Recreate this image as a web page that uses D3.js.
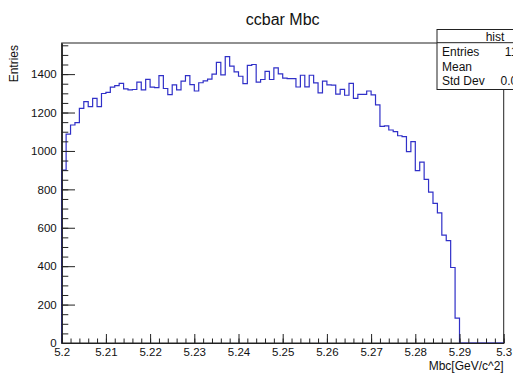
<!DOCTYPE html>
<html>
<head>
<meta charset="utf-8">
<script src="https://cdn.jsdelivr.net/npm/d3@7"></script>
<style>
  html, body { margin: 0; padding: 0; background: #fff; }
  svg { display: block; font-family: "Liberation Sans", Arial, Helvetica, sans-serif; }
</style>
</head>
<body>
<svg id="chart" width="513" height="373"></svg>
<script>
// Histogram "hist": Mbc of ccbar events, 100 bins from 5.2 to 5.3 GeV/c^2
const binLow = 5.2;
const binHigh = 5.3;
const counts = [
  900, 1088, 1135, 1147, 1222, 1257, 1231, 1274, 1231, 1299,
  1305, 1332, 1340, 1352, 1323, 1318, 1320, 1358, 1318, 1373,
  1332, 1330, 1392, 1325, 1293, 1344, 1318, 1363, 1392, 1345,
  1312, 1355, 1365, 1374, 1400, 1461, 1396, 1491, 1442, 1412,
  1389, 1350, 1445, 1450, 1358, 1372, 1414, 1372, 1432, 1401,
  1379, 1377, 1377, 1333, 1394, 1334, 1394, 1354, 1302, 1364,
  1344, 1343, 1296, 1321, 1290, 1352, 1274, 1294, 1295, 1312,
  1292, 1240, 1128, 1130, 1109, 1101, 1079, 1075, 996, 1049,
  897, 942, 852, 786, 727, 677, 562, 533, 393, 130,
  0, 0, 0, 0, 0, 0, 0, 0, 0, 0
];
const xTicks = [5.2, 5.21, 5.22, 5.23, 5.24, 5.25, 5.26, 5.27, 5.28, 5.29, 5.3];
const xTickLabels = ["5.2", "5.21", "5.22", "5.23", "5.24", "5.25", "5.26", "5.27", "5.28", "5.29", "5.3"];
const yTicks = [0, 200, 400, 600, 800, 1000, 1200, 1400];
const yMax = 1562;

const title = "ccbar Mbc";
const xTitle = "Mbc[GeV/c^2]";
const yTitle = "Entries";
const statsName = "hist";

const frame = { left: 61.7, right: 503.7, top: 43, bottom: 343 };
const font = "\"Liberation Sans\", Arial, Helvetica, sans-serif";

const svg = d3.select("#chart");

const x = d3.scaleLinear().domain([binLow, binHigh]).range([frame.left, frame.right]);
const y = d3.scaleLinear().domain([0, yMax]).range([frame.bottom, frame.top]);

const nBins = counts.length;
const binW = (binHigh - binLow) / nBins;

// frame
svg.append("rect")
  .attr("x", frame.left).attr("y", frame.top)
  .attr("width", frame.right - frame.left).attr("height", frame.bottom - frame.top)
  .attr("fill", "none").attr("stroke", "#222").attr("stroke-width", 1);

// step outline of the histogram
const pts = [[binLow, 0]];
counts.forEach((c, i) => {
  pts.push([binLow + i * binW, c]);
  pts.push([binLow + (i + 1) * binW, c]);
});
pts.push([binHigh, 0]);

svg.append("path")
  .datum(pts)
  .attr("fill", "none")
  .attr("stroke", "#3030c8")
  .attr("stroke-width", 1.2)
  .attr("d", d3.line().x(d => x(d[0])).y(d => y(d[1])));

// x axis: major ticks every 0.01, minor every 0.002 (ticks point into the frame)
const xMinor = d3.range(0, 51).map(k => binLow + k * 0.002);
svg.append("g")
  .attr("transform", `translate(0,${frame.bottom})`)
  .call(d3.axisBottom(x).tickValues(xMinor).tickSizeInner(-4.5).tickSizeOuter(0).tickFormat(""))
  .call(g => g.selectAll("text").remove());
svg.append("g")
  .attr("transform", `translate(0,${frame.bottom})`)
  .call(d3.axisBottom(x).tickValues(xTicks).tickSizeInner(-9).tickSizeOuter(0).tickPadding(5)
    .tickFormat((d, i) => xTickLabels[i]));

// y axis: major every 200, minor every 50
const yMinor = d3.range(0, 1551, 50);
svg.append("g")
  .attr("transform", `translate(${frame.left},0)`)
  .call(d3.axisLeft(y).tickValues(yMinor).tickSizeInner(-6.6).tickSizeOuter(0).tickFormat(""))
  .call(g => g.selectAll("text").remove());
svg.append("g")
  .attr("transform", `translate(${frame.left},0)`)
  .call(d3.axisLeft(y).tickValues(yTicks).tickSizeInner(-13.3).tickSizeOuter(0).tickPadding(5)
    .tickFormat(d3.format("d")));

svg.selectAll(".domain").attr("stroke", "#222");
svg.selectAll(".tick line").attr("stroke", "#222");
svg.selectAll(".tick text")
  .attr("font-family", font).attr("font-size", 11.5).attr("fill", "#111");

// titles
svg.append("text")
  .attr("x", (frame.left + frame.right) / 2).attr("y", 25)
  .attr("text-anchor", "middle")
  .attr("font-family", font).attr("font-size", 16).attr("fill", "#111")
  .text(title);

svg.append("text")
  .attr("x", frame.right).attr("y", 370)
  .attr("text-anchor", "end")
  .attr("font-family", font).attr("font-size", 12).attr("fill", "#111")
  .text(xTitle);

svg.append("text")
  .attr("transform", `translate(18,${frame.top + 2}) rotate(-90)`)
  .attr("text-anchor", "end")
  .attr("font-family", font).attr("font-size", 12).attr("fill", "#111")
  .text(yTitle);

// statistics box computed from the bin contents
const centers = counts.map((c, i) => binLow + (i + 0.5) * binW);
const entries = d3.sum(counts);
const mean = d3.sum(counts, (c, i) => c * centers[i]) / entries;
const stdDev = Math.sqrt(d3.sum(counts, (c, i) => c * (centers[i] - mean) ** 2) / entries);
const stats = [
  ["Entries", String(entries)],
  ["Mean", d3.format(".4g")(mean)],
  ["Std Dev", d3.format(".4g")(stdDev)]
];

const box = { x: 437, y: 29.5, w: 116, h: 60, head: 42.7 };
const sb = svg.append("g");
sb.append("rect")
  .attr("x", box.x).attr("y", box.y).attr("width", box.w).attr("height", box.h)
  .attr("fill", "#fff").attr("stroke", "#222").attr("stroke-width", 1);
sb.append("line")
  .attr("x1", box.x).attr("x2", box.x + box.w)
  .attr("y1", box.head).attr("y2", box.head)
  .attr("stroke", "#222");
sb.append("text")
  .attr("x", box.x + box.w / 2).attr("y", 40.5)
  .attr("text-anchor", "middle")
  .attr("font-family", font).attr("font-size", 12).attr("fill", "#111")
  .text(statsName);
const rowY = [56, 70.5, 85];
stats.forEach((s, i) => {
  sb.append("text")
    .attr("x", box.x + 5).attr("y", rowY[i])
    .attr("font-family", font).attr("font-size", 12).attr("fill", "#111")
    .text(s[0]);
  sb.append("text")
    .attr("x", 544).attr("y", rowY[i])
    .attr("text-anchor", "end")
    .attr("font-family", font).attr("font-size", 12).attr("fill", "#111")
    .text(s[1]);
});
</script>
</body>
</html>
